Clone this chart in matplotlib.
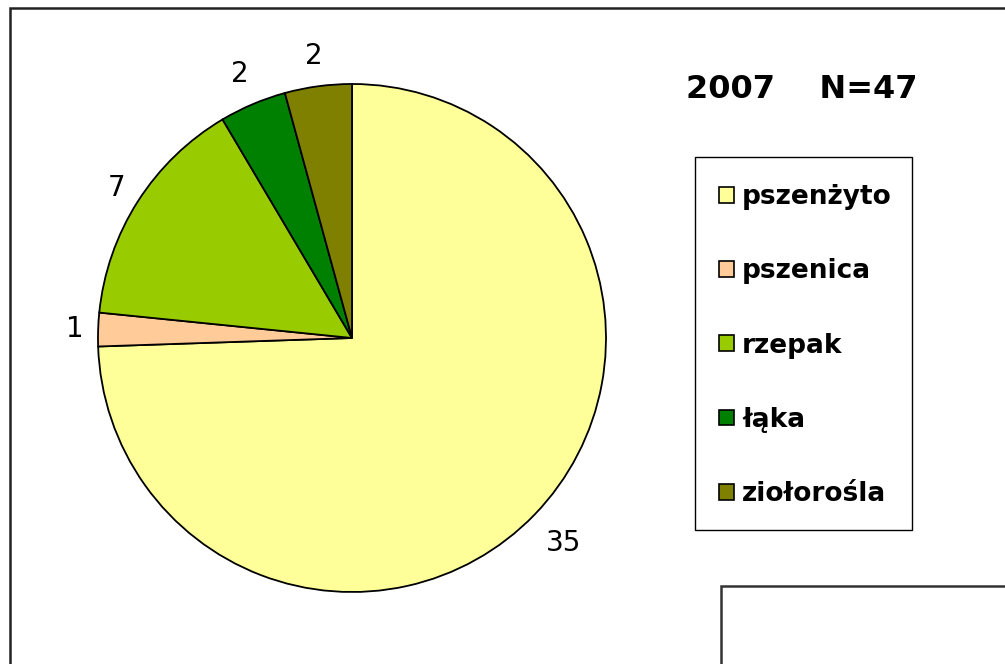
import matplotlib
matplotlib.use("Agg")
import numpy as np
import matplotlib.pyplot as plt
from matplotlib.patches import Rectangle, Patch

categories = ["pszenżyto", "pszenica", "rzepak", "łąka", "ziołorośla"]
values = [35, 1, 7, 2, 2]
colors = ["#FFFF99", "#FFCC99", "#99CC00", "#008000", "#808000"]
title = "2007    N=47"

# label distance (fraction of radius) for each slice label
label_dist = [1.16, 1.09, 1.10, 1.13, 1.12]

W, H = 1005, 664
fig = plt.figure(figsize=(W / 100, H / 100), dpi=100)
ax = fig.add_axes([0, 0, 1, 1])

cx, cy, r = 352, H - 338, 254
wedges, texts = ax.pie(values, colors=colors, labels=[str(v) for v in values],
                       startangle=90, counterclock=False, center=(cx, cy), radius=r,
                       labeldistance=1.1,
                       wedgeprops=dict(edgecolor="black", linewidth=1.3),
                       textprops=dict(fontsize=20, family="DejaVu Sans"))
for w, t, d in zip(wedges, texts, label_dist):
    ang = np.deg2rad((w.theta1 + w.theta2) / 2)
    t.set_position((cx + d * r * np.cos(ang), cy + d * r * np.sin(ang)))
    t.set_ha("center")
    t.set_va("center")

ax.set_xlim(0, W)
ax.set_ylim(0, H)
ax.set_aspect("equal")
ax.axis("off")

# outer chart frame
ax.add_patch(Rectangle((9.5, -20), W + 20, H - 7.5 + 20, fill=False,
                       edgecolor="#222222", linewidth=1.8, clip_on=False))
# bottom-right box
ax.add_patch(Rectangle((720.5, -20), 400, H - 586 + 20, fill=False,
                       edgecolor="#333333", linewidth=1.8, clip_on=False))

# title
ax.text(686, H - 89, title, fontsize=23, fontweight="bold",
        ha="left", va="center", family="DejaVu Sans")

# legend frame
ax.add_patch(Rectangle((694.5, H - 530), 217, 373, fill=False,
                       edgecolor="black", linewidth=1.0))
handles = [Patch(facecolor=c, edgecolor="black", linewidth=1.2) for c in colors]
leg = ax.legend(handles, categories, loc="upper left",
                bbox_to_anchor=(719 / W, 1 - 184 / H), frameon=False,
                prop=dict(family="DejaVu Sans", weight="bold", size=19),
                handlelength=0.55, handleheight=0.55, handletextpad=0.33,
                labelspacing=1.83, borderpad=0, borderaxespad=0)

fig.savefig("out.png", dpi=100)
